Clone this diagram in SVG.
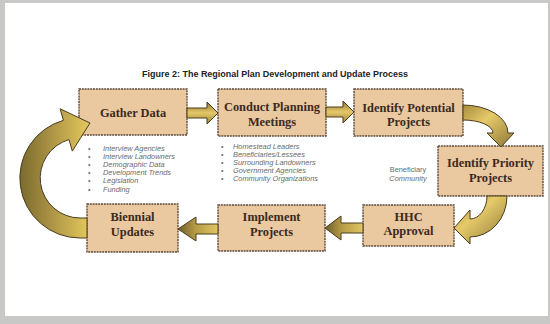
<svg xmlns="http://www.w3.org/2000/svg" width="550" height="324" viewBox="0 0 550 324">
<style>
.box{fill:#eac9a0;stroke:#5e4a3a;stroke-width:1.4;stroke-dasharray:2 0.8}
.lbl{font-family:"Liberation Serif","Times New Roman",serif;font-weight:bold;font-size:12.4px;fill:#3a2a22;text-anchor:middle}
.bl{font-family:"Liberation Sans",Arial,sans-serif;font-style:italic;font-size:7.4px;fill:#6a6a6a}
.bu{font-family:"Liberation Sans",Arial,sans-serif;font-size:7px;fill:#6a6a6a}
.arr{stroke:#4a3c1e;stroke-width:1;stroke-linejoin:round}
.title{font-family:"Liberation Sans",Arial,sans-serif;font-weight:bold;font-size:8.8px;fill:#222}
</style>
<defs>
<linearGradient id="gv" x1="0" y1="0" x2="0" y2="1">
<stop offset="0" stop-color="#8c7432"/><stop offset="0.5" stop-color="#e4c868"/><stop offset="1" stop-color="#9a8036"/>
</linearGradient>
<linearGradient id="gh" x1="0" y1="0" x2="1" y2="0">
<stop offset="0" stop-color="#6e5e2a"/><stop offset="0.45" stop-color="#b89c46"/><stop offset="1" stop-color="#e0c666"/>
</linearGradient>
<linearGradient id="gl" x1="20" y1="0" x2="92" y2="0" gradientUnits="userSpaceOnUse">
<stop offset="0" stop-color="#7a6a2e"/><stop offset="0.5" stop-color="#b39a48"/><stop offset="1" stop-color="#e8cc5e"/>
</linearGradient>
<linearGradient id="gr" x1="0" y1="0" x2="1" y2="1">
<stop offset="0" stop-color="#a88c3c"/><stop offset="0.4" stop-color="#e6ca6a"/><stop offset="1" stop-color="#8a7634"/>
</linearGradient>
</defs>
<rect x="0" y="0" width="550" height="324" fill="#c8c8c6"/>
<rect x="5" y="3" width="543" height="313" fill="#ffffff"/>
<text class="title" x="142" y="77" textLength="266" lengthAdjust="spacingAndGlyphs">Figure 2:  The Regional Plan Development and Update Process</text>

<g id="gather">
<rect class="box" x="79" y="89" width="108" height="46"/>
<text class="lbl" x="133" y="117">Gather Data</text>
</g>
<g id="conduct">
<rect class="box" x="218" y="89" width="108" height="47"/>
<text class="lbl" x="272" y="111">Conduct Planning</text>
<text class="lbl" x="272" y="126">Meetings</text>
</g>
<g id="potential">
<rect class="box" x="354" y="89" width="109" height="47"/>
<text class="lbl" x="408.5" y="112">Identify Potential</text>
<text class="lbl" x="408.5" y="126">Projects</text>
</g>
<g id="priority">
<rect class="box" x="438" y="146" width="105" height="50"/>
<text class="lbl" x="490.5" y="167">Identify Priority</text>
<text class="lbl" x="490.5" y="182">Projects</text>
</g>
<g id="hhc">
<rect class="box" x="363" y="205" width="91" height="41"/>
<text class="lbl" x="408.5" y="221">HHC</text>
<text class="lbl" x="408.5" y="235">Approval</text>
</g>
<g id="implement">
<rect class="box" x="218" y="205" width="107" height="46"/>
<text class="lbl" x="271.5" y="221">Implement</text>
<text class="lbl" x="271.5" y="236">Projects</text>
</g>
<g id="biennial">
<rect class="box" x="87" y="204" width="91" height="48"/>
<text class="lbl" x="132.5" y="221">Biennial</text>
<text class="lbl" x="132.5" y="236">Updates</text>
</g>

<g id="gather-notes">
<text class="bu" x="88" y="150.5">•</text><text class="bl" x="103" y="150.5">Interview Agencies</text>
<text class="bu" x="88" y="158.7">•</text><text class="bl" x="103" y="158.7">Interview Landowners</text>
<text class="bu" x="88" y="166.9">•</text><text class="bl" x="103" y="166.9">Demographic Data</text>
<text class="bu" x="88" y="175.1">•</text><text class="bl" x="103" y="175.1">Development Trends</text>
<text class="bu" x="88" y="183.3">•</text><text class="bl" x="103" y="183.3">Legislation</text>
<text class="bu" x="88" y="191.5">•</text><text class="bl" x="103" y="191.5">Funding</text>
</g>
<g id="meeting-notes">
<text class="bu" x="221" y="148.5">•</text><text class="bl" x="233" y="148.5">Homestead Leaders</text>
<text class="bu" x="221" y="156.7">•</text><text class="bl" x="233" y="156.7">Beneficiaries/Lessees</text>
<text class="bu" x="221" y="164.9">•</text><text class="bl" x="233" y="164.9">Surrounding Landowners</text>
<text class="bu" x="221" y="173.1">•</text><text class="bl" x="233" y="173.1">Government Agencies</text>
<text class="bu" x="221" y="181.3">•</text><text class="bl" x="233" y="181.3">Community Organizations</text>
</g>
<g id="priority-notes">
<text class="bl" x="408" y="171.5" text-anchor="middle" style="font-style:normal">Beneficiary</text>
<text class="bl" x="408" y="180.5" text-anchor="middle">Community</text>
</g>

<g id="connectors">
<path class="arr" fill="url(#gv)" d="M187 108 L207 108 L207 102 L218 113 L207 124 L207 118 L187 118 Z"/>
<path class="arr" fill="url(#gv)" d="M326 107 L343 107 L343 101 L354 112 L343 123 L343 117 L326 117 Z"/>
<path class="arr" fill="url(#gr)" d="M463 105 A45 28 0 0 1 508 133 L514 133 L501 147 L487 133 L493 133 A30 13 0 0 0 463 120 Z"/>
<path class="arr" fill="url(#gr)" d="M507 196 A37 41 0 0 1 470 237 L470 244 L454 228 L470 210 L470 219 A17 23 0 0 0 487 196 Z"/>
<path class="arr" fill="url(#gh)" d="M363 223 L341 223 L341 216 L325 228 L341 240 L341 233 L363 233 Z"/>
<path class="arr" fill="url(#gh)" d="M218 224 L196 224 L196 217 L178 229 L196 241 L196 234 L218 234 Z"/>
<path class="arr" fill="url(#gl)" d="M87 238 L80 238 A60 60 0 0 1 63.4 120.3 L60.1 108.8 L90 123 L72.3 151.1 L69 139.6 A40 40 0 0 0 80 218 L87 218 Z"/>
</g>
</svg>
